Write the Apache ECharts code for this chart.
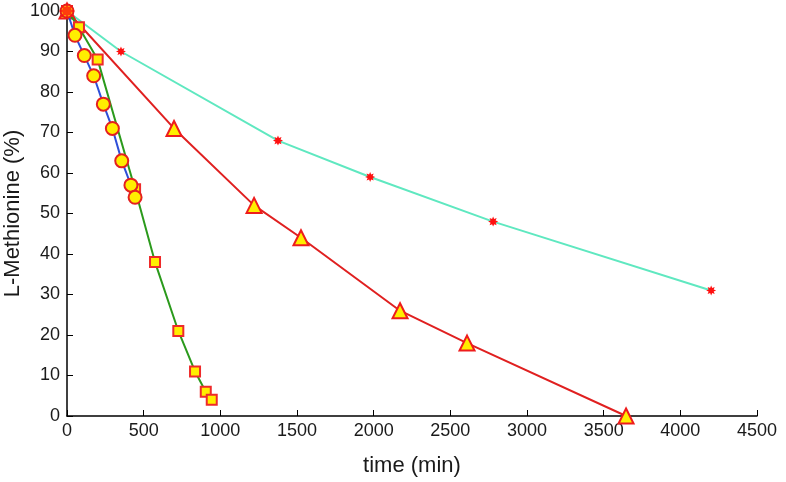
<!DOCTYPE html>
<html><head><meta charset="utf-8">
<script src="https://cdn.jsdelivr.net/npm/echarts@6/dist/echarts.min.js"></script>
<style>html,body{margin:0;padding:0;background:#fff}#c{width:786px;height:482px}</style>
</head><body><div id="c"></div>
<script>
// Data
const circleTime = [0, 52, 113, 174, 237, 296, 357, 417, 444];
const circleVal  = [100, 94, 89, 84, 77, 71, 63, 57, 54];
const squareTime = [0, 78, 200, 444, 574, 726, 835, 905, 944];
const squareVal  = [100, 96, 88, 56, 38, 21, 11, 6, 4];
const triTime = [0, 698, 1220, 1526, 2172, 2609, 3646];
const triVal  = [100, 71, 52, 44, 26, 18, 0];
const starTime = [0, 352, 1376, 1977, 2779, 4201];
const starVal  = [100, 90, 68, 59, 48, 31];

function pairs(xs, ys){ return xs.map((x,i)=>[x, ys[i]]); }

// asterisk path (8 rays)
function asteriskPath(){
  const pts=[]; const n=8;
  for(let i=0;i<n*2;i++){
    const a=Math.PI*i/n - Math.PI/2;
    const r = i%2===0 ? 10 : 5.5;
    pts.push((10+r*Math.cos(a)).toFixed(2)+','+(10+r*Math.sin(a)).toFixed(2));
  }
  return 'path://M'+pts.join('L')+'Z';
}
const star = asteriskPath();

const chart = echarts.init(document.getElementById('c'), null, {renderer:'canvas'});
const fontFam = 'Liberation Sans, Arial, sans-serif';
chart.setOption({
  animation:false,
  backgroundColor:'#fff',
  grid:{left:67, right:29, top:11, bottom:66, containLabel:false, outerBoundsMode:'none'},
  xAxis:{
    type:'value', min:0, max:4500, interval:500,
    name:'time (min)', nameLocation:'middle', nameGap:39, nameMoveOverlap:false,
    nameTextStyle:{fontFamily:fontFam, fontSize:22, color:'#1a1a1a'},
    axisLine:{show:true, lineStyle:{color:'#000', width:1.5}},
    axisTick:{show:true, inside:true, length:6, lineStyle:{color:'#000'}},
    axisLabel:{fontFamily:fontFam, fontSize:18, color:'#1a1a1a', margin:6, formatter: v => String(v)},
    splitLine:{show:false}
  },
  yAxis:{
    type:'value', min:0, max:100, interval:10,
    name:'L-Methionine (%)', nameLocation:'middle', nameGap:43, nameRotate:90, nameMoveOverlap:false,
    nameTextStyle:{fontFamily:fontFam, fontSize:22, color:'#1a1a1a'},
    axisLine:{show:true, lineStyle:{color:'#000', width:1.5}},
    axisTick:{show:true, inside:true, length:6, lineStyle:{color:'#000'}},
    axisLabel:{fontFamily:fontFam, fontSize:18, color:'#1a1a1a', margin:7},
    splitLine:{show:false}
  },
  series:[
    {type:'line', data:pairs(starTime, starVal), symbol:star, symbolSize:10,
     lineStyle:{color:'#5fe8c0', width:2}, itemStyle:{color:'#ff1010', borderWidth:0}, z:2},
    {type:'line', data:pairs(triTime, triVal), symbol:'triangle', symbolSize:15,
     lineStyle:{color:'#e02020', width:2}, itemStyle:{color:'#ffee00', borderColor:'#ee1c1c', borderWidth:2}, z:3},
    {type:'line', data:pairs(squareTime, squareVal), symbol:'rect', symbolSize:10,
     lineStyle:{color:'#2b9a1c', width:2}, itemStyle:{color:'#ffee00', borderColor:'#ee2a2a', borderWidth:2}, z:4},
    {type:'line', data:pairs(circleTime, circleVal), symbol:'circle', symbolSize:13,
     lineStyle:{color:'#2f4fd8', width:2}, itemStyle:{color:'#ffee00', borderColor:'#e42020', borderWidth:2}, z:5},
    {type:'scatter', data:[[starTime[0], starVal[0]]], symbol:star, symbolSize:16,
     itemStyle:{color:'#ff1010'}, z:10}
  ]
});
</script></body></html>
